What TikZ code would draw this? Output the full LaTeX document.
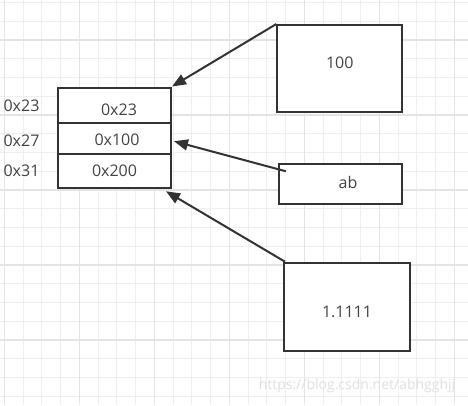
\documentclass[tikz,border=0pt]{standalone}
\usepackage{fontspec}
\setmainfont{Open Sans}
\usetikzlibrary{arrows.meta,positioning}
\definecolor{gridthin}{HTML}{EFEFEF}
\definecolor{gridthick}{HTML}{E4E4E4}
\definecolor{ink}{HTML}{333333}
\definecolor{txt}{HTML}{444444}
\definecolor{wmcol}{HTML}{E0E0E0}
\begin{document}
\begin{tikzpicture}[x=1pt, y=-1pt, every node/.style={font=\fontsize{16}{19}\selectfont, text=txt}, cell/.style={draw=ink, fill=white, line width=2pt, minimum width=113pt, inner sep=0pt}, valbox/.style={draw=ink, fill=white, line width=2pt, inner sep=0pt}, arrow/.style={-{Triangle[length=14pt, width=11pt]}, line width=2pt, draw=ink}]
\useasboundingbox (0,0) rectangle (468,405);
\fill[white] (0,0) rectangle (468,405);
\foreach \k in {0,...,24} \draw[gridthin, line width=1pt] ({4.3+18.75*\k},0) -- ({4.3+18.75*\k},405);
\foreach \k in {0,...,21} \draw[gridthin, line width=1pt] (0,{2.6+18.75*\k}) -- (468,{2.6+18.75*\k});
\foreach \k in {0,4,...,24} \draw[gridthick, line width=1.4pt] ({4.3+18.75*\k},0) -- ({4.3+18.75*\k},405);
\foreach \k in {2,6,...,18} \draw[gridthick, line width=1.4pt] (0,{2.6+18.75*\k}) -- (468,{2.6+18.75*\k});
\node[cell, minimum height=35pt, label={[xshift=4.5pt, yshift=-5pt]center:0x23}] (c1) at (114.5,105) {};
\node[cell, minimum height=31.5pt, label={[xshift=2.5pt, yshift=-1.8pt]center:0x100}] (c2) at (114.5,138.25) {};
\node[cell, minimum height=34.3pt, label={[yshift=0.7pt]center:0x200}] (c3) at (114.5,171.15) {};
\node (a1) at (21.5,105.5) {0x23};
\node (a2) at (21.5,140.5) {0x27};
\node (a3) at (21.5,170.5) {0x31};
\node[valbox, minimum width=125pt, minimum height=87.3pt, label={[yshift=5.7pt]center:100}] (v100) at (339.8,68.7) {};
\node[valbox, minimum width=122.7pt, minimum height=40pt, label={[xshift=7.7pt, yshift=1.8pt]center:ab}] (vab) at (340.3,184.3) {};
\node[valbox, minimum width=126pt, minimum height=88pt, label={[yshift=-5.3pt]center:1.1111}] (vflt) at (347,306.7) {};
\node[text=wmcol, font=\fontsize{14}{16}\selectfont] (wmark) at (357,386) {https://blog.csdn.net/abhgghjj};
\draw[arrow] (v100.north west) -- (c1.north east);
\draw[arrow] ([shift={(8,8)}]vab.north west) -- ([shift={(2,3)}]c2.east);
\draw[arrow] ([shift={(2,0)}]vflt.north west) -- ([shift={(-6,2)}]c3.south east);
\end{tikzpicture}
\end{document}
